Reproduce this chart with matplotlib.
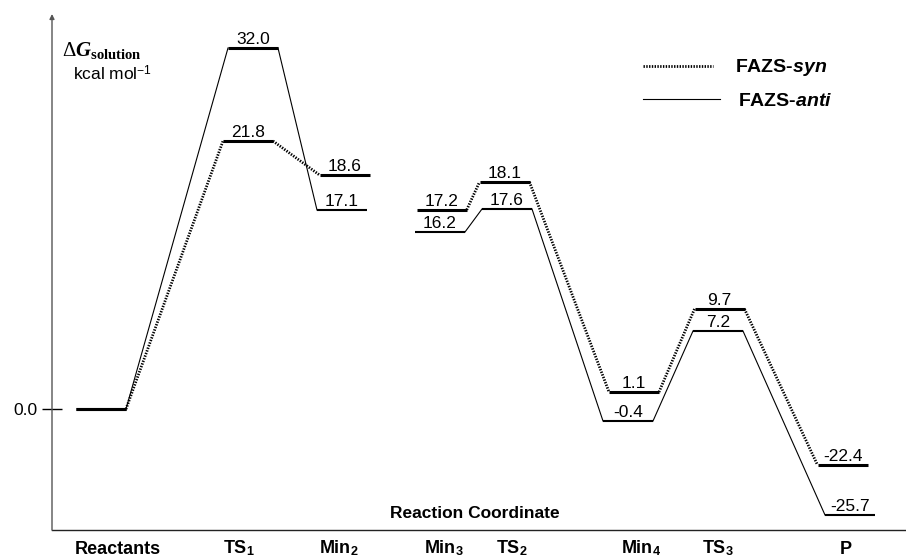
import numpy as np
import matplotlib
matplotlib.use('Agg')
import matplotlib.pyplot as plt
from matplotlib.lines import Line2D

plt.rcParams['font.family'] = ['Liberation Sans', 'DejaVu Sans']
plt.rcParams['mathtext.fontset'] = 'custom'
plt.rcParams['mathtext.rm'] = 'Liberation Sans'
plt.rcParams['mathtext.bf'] = 'Liberation Sans:bold'
plt.rcParams['mathtext.bfit'] = 'Liberation Sans:italic:bold'
plt.rcParams['mathtext.it'] = 'Liberation Serif:italic:bold'
plt.rcParams['mathtext.sf'] = 'Liberation Serif:bold'
plt.rcParams['mathtext.cal'] = 'Liberation Serif'

# free energy profile, kcal/mol
stages = ['Reactants', r'TS$_\mathbf{1}$', r'Min$_\mathbf{2}$', r'Min$_\mathbf{3}$',
          r'TS$_\mathbf{2}$', r'Min$_\mathbf{4}$', r'TS$_\mathbf{3}$', 'P']
dg_syn = [0.0, 21.8, 18.6, 17.2, 18.1, 1.1, 9.7, -22.4]
dg_anti = [0.0, 32.0, 17.1, 16.2, 17.6, -0.4, 7.2, -25.7]

# energy axis is schematic: break points and the height (pixel row) they sit at
axis_dg = [-26.7, -25.7, -22.4, -0.4, 0.0, 1.1, 7.2, 9.7, 16.2, 17.1, 17.6,
           18.1, 18.6, 21.8, 32.0, 35.7]
axis_row = [530, 515, 465, 421, 409, 392, 331, 309, 232, 210, 209, 182, 175,
            141, 48, 14]
axis_h = -np.array(axis_row, dtype=float)


def fwd(e):
    return np.interp(e, axis_dg, axis_h)


def inv(h):
    return np.interp(h, axis_h, axis_dg)


# horizontal layout (pixels)
syn_x = [101, 248, 344.5, 441.75, 504.5, 634, 719.5, 842.5]
anti_x = [101, 253, 342, 440, 507, 628, 718, 850]
label_x = [118, 239, 339, 444, 512, 641, 718, 846]
half_w = 25
no_link = {2}   # Min2 -> Min3 not connected

fig = plt.figure(figsize=(9.06, 5.57), dpi=100)
ax = fig.add_axes([52 / 906, 27 / 557, 854 / 906, 516 / 557])
ax.set_yscale('function', functions=(fwd, inv))
ax.set_xlim(52, 906)
ax.set_ylim(axis_dg[0], axis_dg[-1])

dotted = dict(color='k', lw=2.0, linestyle=(0, (0.5, 0.5)))
solid = dict(color='k', lw=0.8)


def draw_path(xs, dg, level_lw, link_style):
    n = len(dg)
    for i in range(n):
        ax.plot([xs[i] - half_w, xs[i] + half_w], [dg[i], dg[i]], color='k',
                lw=level_lw[i], solid_capstyle='butt')
        if i > 0:
            ax.annotate(f'{dg[i]:.1f}', (xs[i], dg[i]), xytext=(0, 3),
                        textcoords='offset points', ha='center', va='baseline',
                        fontsize=12.5)
        if i + 1 < n and i not in no_link:
            ax.plot([xs[i] + half_w, xs[i + 1] - half_w], [dg[i], dg[i + 1]],
                    **link_style)


draw_path(anti_x, dg_anti, [2.2, 2.2] + [1.5] * 6, solid)
draw_path(syn_x, dg_syn, [2.2] * 8, dotted)

# axes
for side in ['top', 'right', 'left']:
    ax.spines[side].set_visible(False)
ax.spines['bottom'].set_color('#222')
ax.spines['bottom'].set_linewidth(1.0)
ax.annotate('', xy=(0, 1), xycoords='axes fraction', xytext=(0, 0),
            arrowprops=dict(arrowstyle='-|>', color='#555', lw=1,
                            mutation_scale=7, shrinkA=0, shrinkB=0))
ax.set_xticks([])
ax.set_yticks([0.0])
ax.set_yticklabels(['0.0'])
ax.tick_params(axis='y', direction='inout', length=15, width=1, pad=3,
               labelsize=12.5)

for lx, name in zip(label_x, stages):
    ax.annotate(name, xy=(lx, 0), xycoords=('data', 'axes fraction'),
                xytext=(0, -17), textcoords='offset points', ha='center',
                va='baseline', fontsize=13, fontweight='bold',
                annotation_clip=False)

ax.text(0.495, 12 / 516, 'Reaction Coordinate', transform=ax.transAxes,
        ha='center', va='baseline', fontsize=12.5, fontweight='bold')

fig.text(62 / 906, 1 - 56 / 557, r'$\mathcal{Δ}\mathit{G}_{\mathsf{solution}}$',
         fontsize=15, va='baseline')
fig.text(73 / 906, 1 - 80 / 557, r'kcal mol$^{-1}$', fontsize=12.5,
         va='baseline')

# legend
fig.add_artist(Line2D([643 / 906, 713 / 906], [1 - 66 / 557] * 2,
                      transform=fig.transFigure, **dotted))
fig.add_artist(Line2D([643 / 906, 720 / 906], [1 - 99 / 557] * 2,
                      transform=fig.transFigure, **solid))
fig.text(735 / 906, 1 - 72 / 557, r'FAZS-$\mathbfit{syn}$', fontsize=14,
         fontweight='bold', va='baseline')
fig.text(738 / 906, 1 - 106 / 557, r'FAZS-$\mathbfit{anti}$', fontsize=14,
         fontweight='bold', va='baseline')

fig.savefig('out.png', dpi=100)
